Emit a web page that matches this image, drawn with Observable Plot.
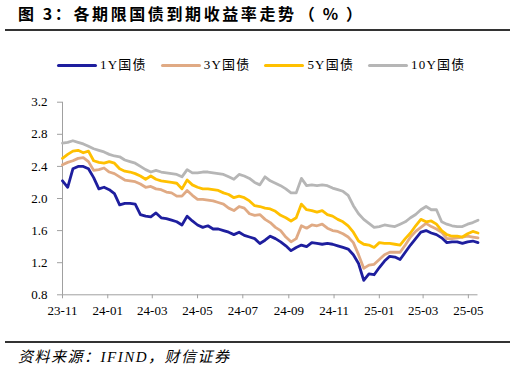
<!DOCTYPE html>
<html><head><meta charset="utf-8">
<script src="https://cdn.jsdelivr.net/npm/d3@7"></script>
<script src="https://cdn.jsdelivr.net/npm/@observablehq/plot@0.6"></script>
<style>
body{margin:0;background:#fff;}
#wrap{position:relative;width:516px;height:373px;overflow:hidden;font-family:"Liberation Serif","Times New Roman","Noto Sans CJK SC",serif;color:#000;}
#title{position:absolute;left:18px;top:4px;font-family:"Noto Sans CJK SC",sans-serif;font-weight:bold;font-size:16px;line-height:18px;letter-spacing:2.6px;white-space:nowrap;}
#title .p{letter-spacing:8px;margin-left:2px;}
.rule{position:absolute;left:5px;width:505px;height:2px;background:#333;}
#legend{position:absolute;left:57px;top:57px;display:flex;gap:14px;align-items:center;font-size:13px;line-height:16px;letter-spacing:1.2px;white-space:nowrap;}
.item{display:flex;align-items:center;}
.sw{width:40px;height:3px;margin-right:3px;border-radius:1.5px;}
#chart{position:absolute;left:0;top:85px;}
#caption{position:absolute;left:18px;top:349px;font-style:italic;font-size:15px;line-height:16px;letter-spacing:1.5px;white-space:nowrap;}
</style></head>
<body>
<div id="wrap">
  <div id="title">图 3：各期限国债到期收益率走势<span class="p">（%）</span></div>
  <div class="rule" style="top:28.5px"></div>
  <div id="legend"></div>
  <div id="chart"></div>
  <div class="rule" style="top:341px"></div>
  <div id="caption">资料来源：IFIND，财信证券</div>
</div>
<script>
const dates = [
"2023-11-01","2023-11-08","2023-11-15","2023-11-22","2023-11-29","2023-12-06","2023-12-13","2023-12-20","2023-12-27",
"2024-01-03","2024-01-10","2024-01-17","2024-01-24","2024-01-31","2024-02-07","2024-02-14","2024-02-21","2024-02-28",
"2024-03-06","2024-03-13","2024-03-20","2024-03-27","2024-04-03","2024-04-10","2024-04-17","2024-04-24",
"2024-05-01","2024-05-08","2024-05-15","2024-05-22","2024-05-29","2024-06-05","2024-06-12","2024-06-19","2024-06-26",
"2024-07-03","2024-07-10","2024-07-17","2024-07-24","2024-07-31","2024-08-07","2024-08-14","2024-08-21","2024-08-28",
"2024-09-04","2024-09-11","2024-09-18","2024-09-25","2024-10-02","2024-10-09","2024-10-16","2024-10-23","2024-10-30",
"2024-11-06","2024-11-13","2024-11-20","2024-11-27","2024-12-04","2024-12-11","2024-12-18","2024-12-25",
"2025-01-01","2025-01-08","2025-01-15","2025-01-22","2025-01-29","2025-02-05","2025-02-12","2025-02-19","2025-02-26",
"2025-03-05","2025-03-12","2025-03-19","2025-03-26","2025-04-02","2025-04-09","2025-04-16","2025-04-23","2025-04-30",
"2025-05-07","2025-05-14"];

const y1 = [2.22,2.14,2.37,2.40,2.40,2.37,2.26,2.12,2.14,
2.11,2.06,1.92,1.94,1.94,1.93,1.80,1.78,1.77,1.82,1.76,1.75,1.73,1.71,1.67,1.78,1.72,1.67,1.64,1.66,1.62,1.62,1.60,1.58,1.55,1.58,1.54,1.52,1.50,1.44,1.48,1.53,1.50,1.46,1.41,1.35,1.39,1.42,1.40,1.45,1.44,1.43,1.44,1.43,1.41,1.39,1.37,1.30,1.19,0.98,1.06,1.05,
1.14,1.22,1.28,1.27,1.24,1.33,1.42,1.50,1.58,1.60,1.57,1.55,1.51,1.45,1.46,1.46,1.44,1.46,1.47,1.45];

const y3 = [2.42,2.45,2.47,2.50,2.51,2.46,2.35,2.36,2.38,
2.33,2.31,2.27,2.23,2.22,2.21,2.18,2.14,2.15,2.12,2.11,2.08,2.07,2.03,2.03,2.10,2.04,1.99,1.99,1.98,1.97,1.95,1.93,1.88,1.85,1.90,1.88,1.81,1.79,1.80,1.74,1.70,1.64,1.60,1.52,1.46,1.50,1.66,1.63,1.67,1.66,1.68,1.63,1.60,1.59,1.56,1.52,1.45,1.30,1.13,1.17,1.18,
1.24,1.30,1.33,1.33,1.33,1.42,1.52,1.59,1.64,1.69,1.65,1.62,1.58,1.50,1.50,1.51,1.52,1.53,1.52,1.51];

const y5 = [2.50,2.55,2.59,2.60,2.57,2.59,2.47,2.45,2.44,
2.46,2.44,2.37,2.34,2.33,2.31,2.28,2.24,2.28,2.24,2.22,2.21,2.20,2.19,2.12,2.23,2.17,2.14,2.12,2.12,2.11,2.10,2.07,2.05,2.01,2.03,2.01,1.97,1.91,1.90,1.88,1.87,1.84,1.79,1.76,1.72,1.76,1.93,1.86,1.85,1.83,1.85,1.80,1.78,1.74,1.71,1.66,1.58,1.47,1.43,1.42,1.39,
1.45,1.44,1.44,1.43,1.42,1.50,1.57,1.66,1.74,1.71,1.72,1.68,1.60,1.55,1.53,1.53,1.52,1.56,1.59,1.57];

const y10 = [2.69,2.70,2.72,2.70,2.68,2.65,2.62,2.60,2.58,
2.55,2.53,2.52,2.48,2.46,2.44,2.40,2.36,2.33,2.35,2.33,2.32,2.31,2.30,2.27,2.36,2.32,2.32,2.33,2.33,2.32,2.31,2.30,2.27,2.24,2.30,2.28,2.25,2.20,2.17,2.27,2.22,2.19,2.16,2.12,2.07,2.07,2.25,2.16,2.17,2.16,2.17,2.16,2.13,2.11,2.09,2.04,1.91,1.81,1.74,1.69,1.64,
1.65,1.67,1.66,1.65,1.68,1.71,1.76,1.80,1.86,1.90,1.86,1.86,1.71,1.68,1.66,1.65,1.65,1.68,1.70,1.73];

const series = ["1Y国债","3Y国债","5Y国债","10Y国债"];
const colors = ["#1e1e9e","#e0aa84","#ffc000","#b6b6b6"];
const xTicks = ["2023-11-01","2024-01-01","2024-03-01","2024-05-01","2024-07-01","2024-09-01","2024-11-01","2025-01-01","2025-03-01","2025-05-01"];
const yTicks = [0.8,1.2,1.6,2.0,2.4,2.8,3.2];
const axisColor = "#a0a0a0";

const values = [y1, y3, y5, y10];
const rows = [];
series.forEach((s, k) => dates.forEach((d, i) => rows.push({date: new Date(d), value: values[k][i], series: s})));

const legend = document.getElementById("legend");
series.forEach((s, k) => {
  const it = document.createElement("div"); it.className = "item";
  const sw = document.createElement("div"); sw.className = "sw"; sw.style.background = colors[k];
  const tx = document.createElement("span"); tx.textContent = s;
  it.appendChild(sw); it.appendChild(tx); legend.appendChild(it);
});

const x0 = new Date(dates[0]);
const chart = Plot.plot({
  width: 516, height: 245,
  marginTop: 16.7, marginBottom: 35.7, marginLeft: 62, marginRight: 38.5,
  style: {fontFamily: '"Liberation Serif","Times New Roman",serif', fontSize: "13px", color: "#000", background: "transparent"},
  x: {type: "utc", domain: [x0, new Date(dates[dates.length - 1])]},
  y: {domain: [0.8, 3.2]},
  color: {domain: series, range: colors},
  marks: [
    Plot.axisY({ticks: yTicks, tickSize: 5, tickPadding: 10, tickFormat: d3.format(".1f"), stroke: axisColor, fill: "#000", label: null}),
    Plot.axisX({ticks: xTicks.map(d => new Date(d)), tickSize: 4, tickPadding: 7, tickFormat: d3.utcFormat("%y-%m"), stroke: axisColor, fill: "#000", label: null}),
    Plot.ruleX([x0], {stroke: axisColor}),
    Plot.ruleY([0.8], {stroke: axisColor}),
    Plot.line(rows, {x: "date", y: "value", stroke: "series", z: "series", strokeWidth: 2.8})
  ]
});
document.getElementById("chart").appendChild(chart);
</script>
</body></html>
